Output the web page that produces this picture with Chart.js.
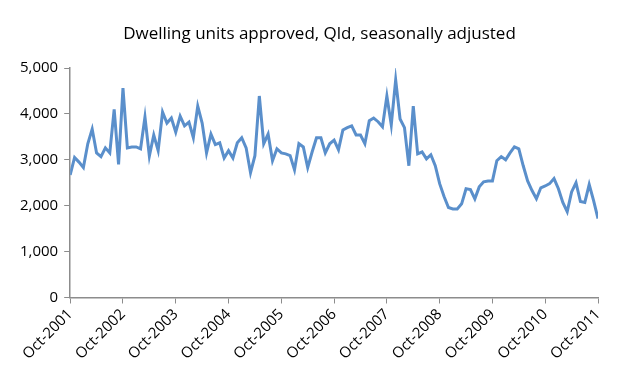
<!DOCTYPE html>
<html>
<head>
<meta charset="utf-8">
<script src="https://cdn.jsdelivr.net/npm/chart.js@4"></script>
<style>
  body { margin: 0; background: #fff; }
  #wrap { width: 639px; height: 384px; }
</style>
</head>
<body>
<div id="wrap"><canvas id="chart" width="639" height="384"></canvas></div>
<script>
// monthly dwelling units approved, Oct-2001 .. Oct-2011 (121 months)
const approvals = [
  2670, 3050, 2950, 2830, 3350, 3670, 3150, 3070, 3260, 3150, 4100, 2900,
  4560, 3260, 3280, 3280, 3240, 3930, 3080, 3540, 3200, 4040, 3800, 3910,
  3600, 3950, 3740, 3820, 3480, 4170, 3800, 3150, 3560, 3330, 3370, 3040,
  3200, 3040, 3370, 3480, 3260, 2720, 3090, 4390, 3350, 3560, 2980, 3240,
  3150, 3130, 3090, 2780, 3350, 3280, 2830, 3170, 3480, 3480, 3150, 3350,
  3430, 3220, 3650, 3700, 3740, 3540, 3540, 3350, 3850, 3910, 3830, 3720,
  4390, 3760, 4740, 3890, 3700, 2870, 4170, 3130, 3170, 3020, 3110, 2870,
  2480, 2200, 1960, 1930, 1930, 2040, 2370, 2350, 2150, 2410, 2520, 2540,
  2540, 2980, 3070, 3000, 3150, 3280, 3240, 2870, 2540, 2330, 2150, 2390,
  2430, 2480, 2590, 2370, 2070, 1870, 2300, 2500, 2090, 2070, 2460, 2110,
  1720
];

// one label per October
const yearLabels = [
  "Oct-2001", "Oct-2002", "Oct-2003", "Oct-2004", "Oct-2005", "Oct-2006",
  "Oct-2007", "Oct-2008", "Oct-2009", "Oct-2010", "Oct-2011"
];

const chartTitle = "Dwelling units approved, Qld, seasonally adjusted";

const axisGrey = "#8c8c8c";
const font = "'Open Sans', 'Liberation Sans', sans-serif";

// title centred on the whole canvas (the built-in one centres between the paddings)
const centredTitle = {
  id: "centredTitle",
  afterDraw(chart) {
    const ctx = chart.ctx;
    ctx.save();
    ctx.font = "17px " + font;
    ctx.fillStyle = "#000";
    ctx.textAlign = "center";
    ctx.textBaseline = "middle";
    ctx.fillText(chartTitle, chart.width / 2, 34);
    ctx.restore();
  },
};

new Chart(document.getElementById("chart"), {
  type: "line",
  data: {
    datasets: [{
      data: approvals.map((v, i) => ({ x: i, y: v })),
      borderColor: "#5A8FCB",
      borderWidth: 3,
      pointRadius: 0,
      tension: 0,
      fill: false,
    }],
  },
  options: {
    responsive: false,
    animation: false,
    layout: { padding: { left: 14, right: 41, top: 68, bottom: 19 } },
    plugins: {
      legend: { display: false },
      tooltip: { enabled: false },
      title: { display: false },
    },
    scales: {
      x: {
        type: "linear",
        min: 0,
        max: 120,
        offset: false,
        border: { color: axisGrey, width: 1.5 },
        grid: { drawOnChartArea: false, color: axisGrey, tickLength: 6 },
        ticks: {
          stepSize: 12,
          autoSkip: false,
          minRotation: 45,
          maxRotation: 45,
          color: "#000",
          font: { family: font, size: 15 },
          padding: 2,
          callback: (v) => yearLabels[v / 12],
        },
      },
      y: {
        min: 0,
        max: 5000,
        border: { color: axisGrey, width: 1.5 },
        grid: { drawOnChartArea: false, color: axisGrey, tickLength: 6 },
        ticks: {
          stepSize: 1000,
          color: "#000",
          font: { family: font, size: 15 },
          padding: 6,
          callback: (v) => v.toLocaleString("en-US"),
        },
      },
    },
  },
  plugins: [centredTitle],
});
</script>
</body>
</html>
